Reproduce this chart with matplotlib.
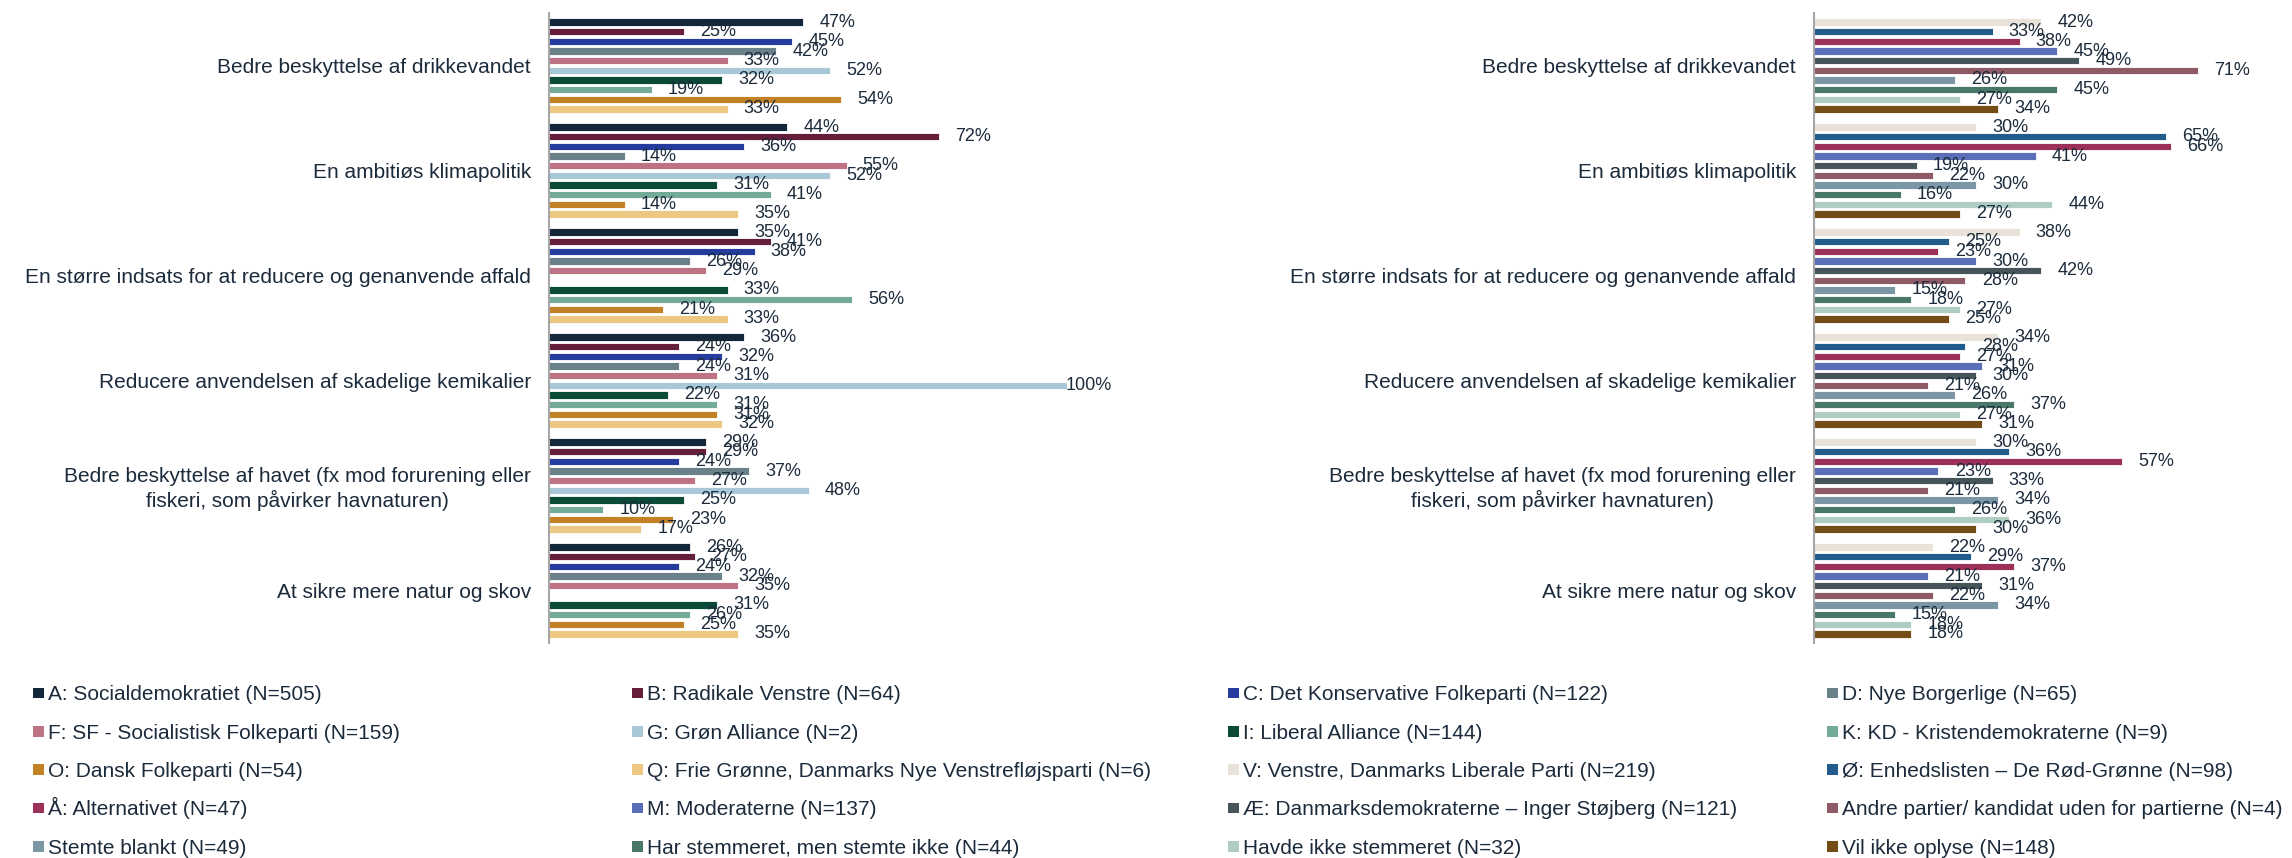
import matplotlib
matplotlib.use('Agg')
import matplotlib.pyplot as plt
from matplotlib.patches import Rectangle
import numpy as np

plt.rcParams['font.family'] = ['Liberation Sans', 'DejaVu Sans']

categories = [
    'Bedre beskyttelse af drikkevandet',
    'En ambitiøs klimapolitik',
    'En større indsats for at reducere og genanvende affald',
    'Reducere anvendelsen af skadelige kemikalier',
    'Bedre beskyttelse af havet (fx mod forurening eller\nfiskeri, som påvirker havnaturen)',
    'At sikre mere natur og skov',
]

# left panel parties
left_names = [
    'A: Socialdemokratiet (N=505)',
    'B: Radikale Venstre (N=64)',
    'C: Det Konservative Folkeparti (N=122)',
    'D: Nye Borgerlige (N=65)',
    'F: SF - Socialistisk Folkeparti (N=159)',
    'G: Grøn Alliance (N=2)',
    'I: Liberal Alliance (N=144)',
    'K: KD - Kristendemokraterne (N=9)',
    'O: Dansk Folkeparti (N=54)',
    'Q: Frie Grønne, Danmarks Nye Venstrefløjsparti (N=6)',
]
left_colors = ['#14273a', '#641e3a', '#253c9e', '#6b8189', '#bd7384',
               '#a8c8d8', '#0a4a37', '#74aa98', '#c38125', '#ecc883']
# one list per party, one value per category (nan = no bar)
A = [0.47, 0.44, 0.35, 0.36, 0.29, 0.26]
B = [0.25, 0.72, 0.41, 0.24, 0.29, 0.27]
C = [0.45, 0.36, 0.38, 0.32, 0.24, 0.24]
D = [0.42, 0.14, 0.26, 0.24, 0.37, 0.32]
F = [0.33, 0.55, 0.29, 0.31, 0.27, 0.35]
G = [0.52, 0.52, np.nan, 1.00, 0.48, np.nan]
I = [0.32, 0.31, 0.33, 0.22, 0.25, 0.31]
K = [0.19, 0.41, 0.56, 0.31, 0.10, 0.26]
O = [0.54, 0.14, 0.21, 0.31, 0.23, 0.25]
Q = [0.33, 0.35, 0.33, 0.32, 0.17, 0.35]
left_values = [A, B, C, D, F, G, I, K, O, Q]

# right panel parties / groups
right_names = [
    'V: Venstre, Danmarks Liberale Parti (N=219)',
    'Ø: Enhedslisten – De Rød-Grønne (N=98)',
    'Å: Alternativet (N=47)',
    'M: Moderaterne (N=137)',
    'Æ: Danmarksdemokraterne – Inger Støjberg (N=121)',
    'Andre partier/ kandidat uden for partierne (N=4)',
    'Stemte blankt (N=49)',
    'Har stemmeret, men stemte ikke (N=44)',
    'Havde ikke stemmeret (N=32)',
    'Vil ikke oplyse (N=148)',
]
right_colors = ['#e8e2d8', '#225c8c', '#9c3058', '#5b6eb8', '#46555a',
                '#8e5a66', '#7b97a5', '#4a7868', '#b0cdc3', '#744d16']
V = [0.42, 0.30, 0.38, 0.34, 0.30, 0.22]
OE = [0.33, 0.65, 0.25, 0.28, 0.36, 0.29]
AA = [0.38, 0.66, 0.23, 0.27, 0.57, 0.37]
M = [0.45, 0.41, 0.30, 0.31, 0.23, 0.21]
AE = [0.49, 0.19, 0.42, 0.30, 0.33, 0.31]
andre = [0.71, 0.22, 0.28, 0.21, 0.21, 0.22]
blankt = [0.26, 0.30, 0.15, 0.26, 0.34, 0.34]
stemte_ikke = [0.45, 0.16, 0.18, 0.37, 0.26, 0.15]
ikke_stemmeret = [0.27, 0.44, 0.27, 0.27, 0.36, 0.18]
vil_ikke = [0.34, 0.27, 0.25, 0.31, 0.30, 0.18]
right_values = [V, OE, AA, M, AE, andre, blankt, stemte_ikke, ikke_stemmeret, vil_ikke]

TEXT = '#1c2b3b'
W, H = 2292, 858


def draw_panel(ax, values, colors, xmax):
    y = np.arange(len(categories))
    slot = 0.092
    n = len(values)
    for j, (vals, col) in enumerate(zip(values, colors)):
        vals = np.array(vals, dtype=float)
        pos = y + (j - (n - 1) / 2) * slot
        ax.barh(pos, np.nan_to_num(vals), height=0.068, color=col,
                edgecolor='white', linewidth=0.6)
        for p, v in zip(pos, vals):
            if np.isnan(v):
                continue
            x = v + 0.03 if v + 0.03 < xmax else xmax - 0.003
            ax.text(x, p, '{:.0%}'.format(v), va='center', ha='left',
                    fontsize=13, color=TEXT, clip_on=False)
    ax.set_xlim(0, xmax)
    ax.set_ylim(len(categories) - 0.5, -0.5)
    ax.set_yticks(y)
    ax.set_yticklabels(categories, fontsize=15, color=TEXT)
    for lab in ax.get_yticklabels():
        lab.set_multialignment('center')
    ax.tick_params(axis='y', length=0, pad=13)
    ax.set_xticks([])
    for s in ['top', 'right', 'bottom']:
        ax.spines[s].set_visible(False)
    ax.spines['left'].set_color('#a6a6a6')
    ax.spines['left'].set_linewidth(1.5)


def draw_legend(fig, names, colors):
    # excel style legend: 4 equal columns, filled row by row
    col_x = [33, 632, 1228, 1827]
    row_y = 693
    row_step = 38.3
    sq = 10.7
    for i, (name, col) in enumerate(zip(names, colors)):
        x = col_x[i % 4]
        yc = row_y + (i // 4) * row_step
        fig.add_artist(Rectangle((x / W, 1 - (yc + sq / 2) / H), sq / W, sq / H,
                                 transform=fig.transFigure, color=col, lw=0))
        fig.text((x + sq + 4) / W, 1 - (yc + 7.5) / H, name, fontsize=15,
                 color=TEXT, ha='left', va='baseline')


def main():
    fig = plt.figure(figsize=(W / 100, H / 100), dpi=100)
    bottom = 1 - 643 / H
    height = (643 - 13) / H
    ax1 = fig.add_axes([549 / W, bottom, (1067 - 549) / W, height])
    ax2 = fig.add_axes([1814 / W, bottom, (W - 1814) / W, height])

    draw_panel(ax1, left_values, left_colors, 518 / 541)
    draw_panel(ax2, right_values, right_colors, (W - 1814) / 541)

    draw_legend(fig, left_names + right_names, left_colors + right_colors)

    fig.savefig('out.png', dpi=100)


if __name__ == '__main__':
    main()
